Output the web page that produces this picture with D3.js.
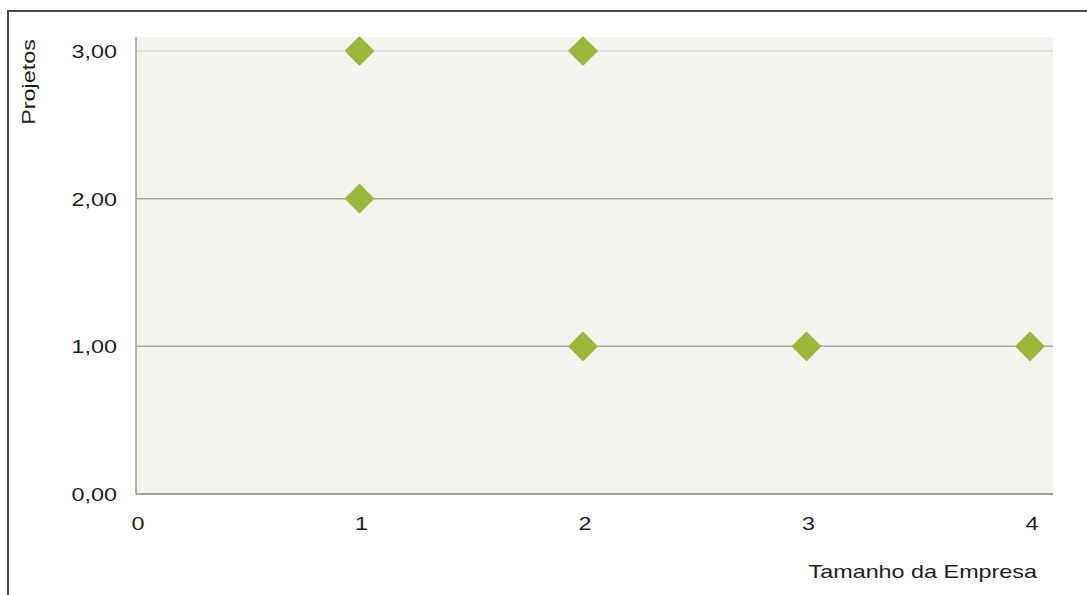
<!DOCTYPE html>
<html>
<head>
<meta charset="utf-8">
<script src="https://cdn.jsdelivr.net/npm/d3@7"></script>
<style>
  body { margin: 0; background: #fff; }
  text { font-family: "Liberation Sans", Arial, sans-serif; fill: #1e1e1e; font-size: 19px; }
</style>
</head>
<body>
<div id="chart"></div>
<script>
var width = 1087,
    height = 595;

// data
var empresa = [1, 1, 2, 2, 3, 4];
var projetos = [3, 2, 3, 1, 1, 1];
var xTicks = [0, 1, 2, 3, 4];
var yTicks = [0, 1, 2, 3];

var stretch = 1.23; // the text in the source image is a bit wide

var svg = d3.select('#chart').append('svg')
    .attr('width', width).attr('height', height);

// frame around the figure
svg.append('line')
    .attr('x1', 8).attr('x2', width).attr('y1', 11).attr('y2', 11)
    .attr('stroke', '#4a4a4a').attr('stroke-width', 2);
svg.append('line')
    .attr('x1', 8).attr('x2', 8).attr('y1', 10).attr('y2', height)
    .attr('stroke', '#4a4a4a').attr('stroke-width', 2);

var x = d3.scaleLinear().domain([0, 4]).range([136, 1030]);
var y = d3.scaleLinear().domain([0, 3]).range([494, 51]);

// plot background
svg.append('rect')
    .attr('x', 136).attr('y', 37)
    .attr('width', 1053 - 136).attr('height', 494 - 37)
    .attr('fill', '#f4f4ee');

// gridlines
svg.append('g').selectAll('line').data(yTicks.filter(function(d) { return d > 0; }))
  .enter().append('line')
    .attr('x1', 136).attr('x2', 1053)
    .attr('y1', function(d) { return y(d); }).attr('y2', function(d) { return y(d); })
    .attr('stroke', function(d) { return d === 3 ? '#e2e2da' : '#a9a9a3'; })
    .attr('stroke-width', function(d) { return d === 3 ? 2 : 1.5; });

// axes lines
svg.append('line')
    .attr('x1', 136).attr('x2', 1053).attr('y1', 494).attr('y2', 494)
    .attr('stroke', '#a3a39d').attr('stroke-width', 2);
svg.append('line')
    .attr('x1', 136).attr('x2', 136).attr('y1', 37).attr('y2', 494)
    .attr('stroke', '#b3b3ad').attr('stroke-width', 2);

// y tick labels
var fmt = function(d) { return d3.format('.2f')(d).replace('.', ','); };
svg.append('g').selectAll('text').data(yTicks)
  .enter().append('text')
    .attr('transform', function(d) { return 'translate(117,' + (y(d) + 7) + ') scale(' + stretch + ',1)'; })
    .attr('text-anchor', 'end')
    .text(fmt);

// x tick labels
svg.append('g').selectAll('text').data(xTicks)
  .enter().append('text')
    .attr('transform', function(d) { return 'translate(' + (x(d) + 2) + ',530) scale(' + stretch + ',1)'; })
    .attr('text-anchor', 'middle')
    .text(function(d) { return d; });

// axis titles
svg.append('text')
    .attr('transform', 'translate(35, 82) rotate(-90) scale(' + stretch + ',1)')
    .attr('text-anchor', 'middle')
    .text('Projetos');
svg.append('text')
    .attr('transform', 'translate(1037, 578) scale(' + stretch + ',1)')
    .attr('text-anchor', 'end')
    .text('Tamanho da Empresa');

// points
var pts = empresa.map(function(e, i) { return {x: e, y: projetos[i]}; });
svg.append('g').selectAll('path').data(pts)
  .enter().append('path')
    .attr('d', d3.symbol().type(d3.symbolSquare).size(370))
    .attr('transform', function(d) { return 'translate(' + x(d.x) + ',' + y(d.y) + ') rotate(45)'; })
    .attr('fill', '#9ab93b')
    .attr('stroke', '#9ab93b')
    .attr('stroke-linejoin', 'round')
    .attr('stroke-width', 2);
</script>
</body>
</html>
